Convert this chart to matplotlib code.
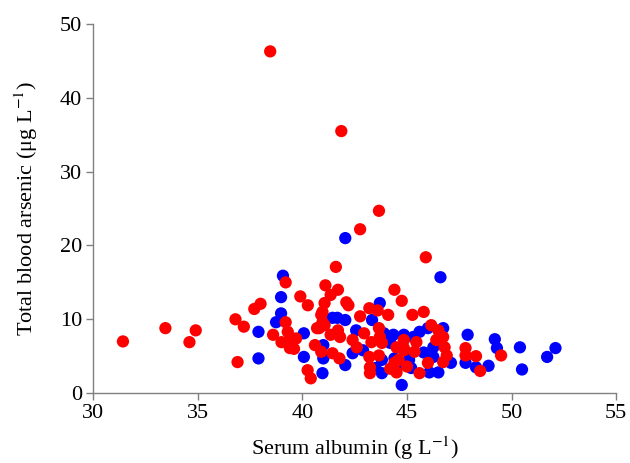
import matplotlib
matplotlib.use("Agg")
import matplotlib.pyplot as plt

plt.rcParams["font.family"] = ["Liberation Serif", "DejaVu Serif"]
plt.rcParams["mathtext.fontset"] = "stix"

# Blue group: serum albumin (g/L), blood arsenic (ug/L)
blue_alb = [37.9, 37.9, 39.07, 38.98, 38.98, 38.74, 40.07, 40.07, 41.0, 41.0,
            40.96, 42.05, 41.67, 41.44, 42.05, 43.33, 42.57, 43.9, 44.35, 42.4,
            43.8, 44.4, 42.05, 43.8, 44.75, 43.7, 46.6, 44.85, 45.6, 46.0,
            46.73, 46.26, 46.26, 47.1, 45.1, 46.07, 46.5, 45.2, 47.9, 47.8,
            48.3, 49.2, 49.3, 48.9, 50.4, 50.5, 51.7, 52.1, 45.3, 44.2,
            42.9, 43.5, 45.8, 44.6]
blue_as = [8.3, 4.7, 15.9, 13.0, 10.8, 9.6, 8.1, 4.9, 6.5, 4.7,
           2.7, 21.0, 10.2, 10.2, 9.9, 9.9, 8.5, 8.1, 7.9, 5.4,
           4.5, 4.7, 3.8, 2.7, 1.1, 12.2, 15.7, 7.9, 8.3, 8.8,
           8.8, 6.2, 4.9, 4.1, 4.5, 2.8, 2.8, 3.4, 7.9, 4.1,
           3.5, 7.3, 6.1, 3.7, 6.2, 3.2, 4.9, 6.1, 7.6, 6.8,
           5.8, 3.4, 5.5, 3.9]

# Red group
red_alb = [38.46, 41.86, 43.66, 42.76, 45.9, 41.6, 31.42, 33.45, 34.9, 34.6,
           36.8, 37.2, 36.9, 37.7, 38.0, 39.2, 39.9, 40.26, 39.2, 38.6,
           39.3, 39.45, 39.7, 39.0, 39.4, 39.6, 40.6, 40.9, 40.8, 40.96,
           40.96, 41.06, 41.1, 40.25, 40.4, 41.7, 41.35, 42.1, 42.2, 44.4,
           44.75, 43.2, 43.6, 44.1, 42.76, 40.9, 41.06, 40.7, 41.7, 41.35,
           41.8, 42.95, 43.66, 43.7, 42.4, 42.6, 43.3, 43.8, 44.5, 44.85,
           41.44, 41.77, 43.2, 43.66, 43.23, 43.23, 44.4, 44.5, 45.26, 45.8,
           46.16, 46.5, 46.73, 46.4, 46.8, 46.9, 46.73, 45.45, 45.36, 44.85,
           44.85, 44.6, 46.0, 45.6, 47.8, 47.8, 48.3, 48.5, 49.5, 45.0,
           44.2]
red_as = [46.3, 35.5, 24.7, 22.2, 18.4, 17.1, 7.0, 8.8, 8.5, 6.9,
          10.0, 9.0, 4.2, 11.4, 12.1, 15.0, 13.1, 11.9, 9.6, 7.9,
          8.3, 7.5, 7.4, 6.9, 6.1, 6.0, 6.5, 5.6, 8.8, 9.6,
          11.0, 12.2, 14.6, 3.1, 2.0, 14.0, 13.3, 12.3, 11.9, 14.0,
          12.5, 11.5, 11.2, 10.6, 10.4, 10.6, 9.2, 8.8, 8.5, 7.9,
          7.6, 8.1, 8.8, 7.6, 7.2, 6.2, 6.9, 6.8, 6.2, 6.1,
          5.4, 4.7, 4.9, 5.1, 3.5, 2.7, 4.1, 2.8, 10.6, 11.0,
          9.2, 8.5, 7.6, 7.2, 6.2, 5.1, 4.2, 6.9, 5.6, 7.2,
          5.8, 4.5, 4.1, 2.7, 6.1, 5.1, 5.0, 3.0, 5.1, 3.6,
          3.3]

fig = plt.figure(figsize=(6.3, 4.63), dpi=100)
ax = fig.add_axes([0.148, 0.151, 0.830, 0.797])

ax.scatter(blue_alb, blue_as, s=78, color="#0000ff", edgecolors="none", zorder=2)
ax.scatter(red_alb, red_as, s=78, color="#ff0000", edgecolors="none", zorder=3)

ax.set_xlim(30, 55)
ax.set_ylim(0, 50)
ax.set_xticks(range(30, 56, 5))
ax.set_yticks(range(0, 51, 10))

for side in ["top", "right"]:
    ax.spines[side].set_visible(False)
for side in ["left", "bottom"]:
    ax.spines[side].set_color("#808080")
    ax.spines[side].set_linewidth(1.0)
ax.tick_params(direction="out", length=5, width=1, color="#808080",
               labelsize=16, pad=3)

ax.set_xlabel(r"Serum albumin (g L$^{\mathrm{-1}}$)", fontsize=16, labelpad=8)
ax.set_ylabel(r"Total blood arsenic (μg L$^{\mathrm{-1}}$)", fontsize=16, labelpad=14)

fig.savefig("out.png", dpi=100)
